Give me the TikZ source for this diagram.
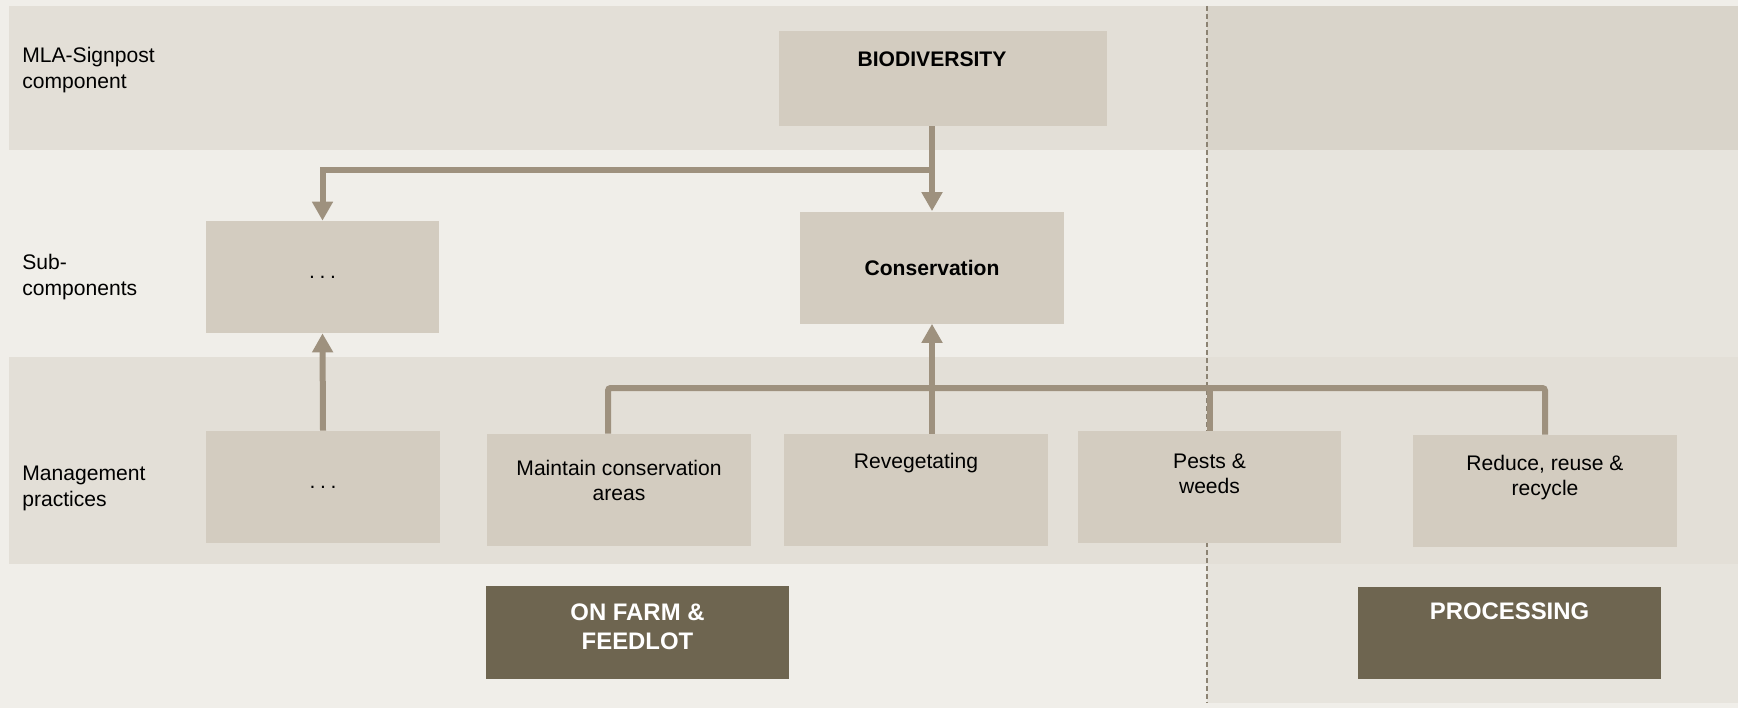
\documentclass[tikz,border=0pt]{standalone}
\usepackage{fontspec}
\setmainfont{Liberation Sans}
\usetikzlibrary{arrows.meta}
\usetikzlibrary{calc}

\definecolor{paper}{HTML}{F0EEE9}
\definecolor{dotband}{HTML}{E3DFD7}
\definecolor{dotdark}{HTML}{D9D4CA}
\definecolor{dotlight}{HTML}{E7E4DD}
\definecolor{boxfill}{HTML}{D3CCC0}
\definecolor{linkcol}{HTML}{9E917E}
\definecolor{sectfill}{HTML}{6E6550}
\definecolor{dashcol}{HTML}{8C8373}

\newcommand{\gapdots}{.\kern2.6pt.\kern2.6pt.}

\tikzset{
  box/.style={fill=boxfill, inner sep=0pt, minimum width=5.28cm, minimum height=2.24cm, font=\fontsize{12}{14.3}\selectfont},
  sectbox/.style={fill=sectfill, inner sep=0pt, minimum width=6.06cm, minimum height=1.85cm},
  txt/.style={inner sep=0pt, align=center, font=\fontsize{12}{14.3}\selectfont},
  rowlabel/.style={inner sep=0pt, align=left, anchor=west, font=\fontsize{12}{14.8}\selectfont},
  secttxt/.style={inner sep=0pt, align=center, text=white, font=\bfseries\fontsize{13.6}{16.5}\selectfont},
  link/.style={draw=linkcol, line width=0.12cm, -{Triangle[width=0.4cm,length=0.38cm]}},
  bus/.style={draw=linkcol, line width=0.12cm, rounded corners=1.5pt},
}

\begin{document}
\begin{tikzpicture}
\useasboundingbox (0,0) rectangle (34.76,14.16);
\fill[paper] (0,0) rectangle (34.76,14.16);
\fill[dotband] (0.18,11.16) rectangle (34.76,14.04);
\fill[dotlight] (24.14,0.1) rectangle (34.76,11.16);
\fill[dotband] (0.18,2.88) rectangle (34.76,7.02);
\fill[dotdark] (24.14,11.16) rectangle (34.76,14.04);
\draw[dashcol, line width=0.04cm, dash pattern=on 0.1cm off 0.06cm] (24.14,14.04) -- (24.14,0.1);

\node[rowlabel] (lbl-mla) at (0.44,12.76) {MLA-Signpost\\component};
\node[rowlabel] (lbl-sub) at (0.44,8.62) {Sub-\\components};
\node[rowlabel] (lbl-mgt) at (0.44,4.40) {Management\\practices};

\node[box, minimum width=6.56cm, minimum height=1.9cm] (bio) at (18.86,12.59) {};
\node[box, font=\bfseries\fontsize{12}{14.3}\selectfont] (cons) at (18.64,8.81) {Conservation};
\node[box, minimum width=4.66cm] (subdots) at (6.45,8.62) {\gapdots};
\node[box, minimum width=4.68cm] (mgdots) at (6.46,4.42) {\gapdots};
\node[box] (maint) at (12.38,4.36) {};
\node[box] (reveg) at (18.32,4.36) {};
\node[box, minimum width=5.26cm] (pests) at (24.19,4.42) {};
\node[box] (reduce) at (30.90,4.34) {};
\node[sectbox] (farm) at (12.75,1.51) {};
\node[sectbox] (proc) at (30.19,1.50) {};

\node[txt, font=\bfseries\fontsize{12}{14.3}\selectfont] (bio-t) at ($(bio.north -| cons.north)+(0,-0.58)$) {BIODIVERSITY};
\node[txt] (maint-t) at ($(maint.north)+(0,-0.93)$) {Maintain conservation\\areas};
\node[txt] (reveg-t) at ($(reveg.north)+(0,-0.58)$) {Revegetating};
\node[txt] (pests-t) at ($(pests.north)+(0,-0.86)$) {Pests \&\\weeds};
\node[txt] (reduce-t) at ($(reduce.north)+(0,-0.86)$) {Reduce, reuse \&\\recycle};
\node[secttxt] (farm-t) at ($(farm.north)+(0,-0.81)$) {ON FARM \&\\FEEDLOT};
\node[secttxt] (proc-t) at ($(proc.north)+(0,-0.50)$) {PROCESSING};

\coordinate (split) at ($(bio.south -| cons.north)+(0,-0.88)$);
\coordinate (bus) at (0,6.40);
\draw[link] (bio.south -| cons.north) -- (cons.north);
\draw[link] (split) -| (subdots.north);
\draw[link] (mgdots.north) -- (subdots.south);
\draw[bus] ([xshift=-0.22cm]maint.north) |- (reduce.north |- bus) -- (reduce.north);
\draw[bus] (pests.north) -- (pests.north |- bus);
\draw[link] (reveg.north -| cons.south) -- (cons.south);
\end{tikzpicture}
\end{document}
